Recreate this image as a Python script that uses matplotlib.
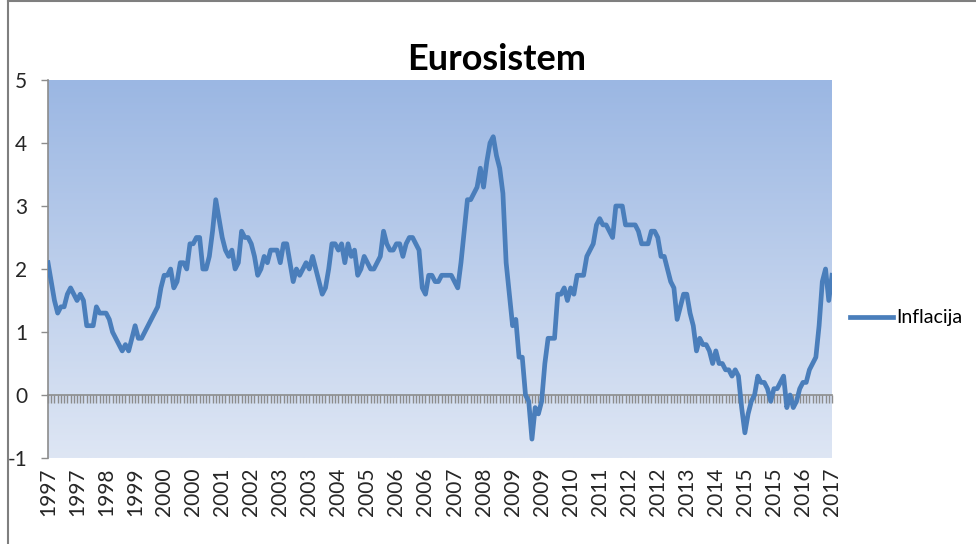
import numpy as np
import matplotlib
matplotlib.use('Agg')
import matplotlib.pyplot as plt
from matplotlib.lines import Line2D

# monthly inflation, Jan 1997 .. Apr 2017
inflacija = [
    2.1, 1.8, 1.5, 1.3, 1.4, 1.4, 1.6, 1.7, 1.6, 1.5, 1.6, 1.5,   # 1997
    1.1, 1.1, 1.1, 1.4, 1.3, 1.3, 1.3, 1.2, 1.0, 0.9, 0.8, 0.7,   # 1998
    0.8, 0.7, 0.9, 1.1, 0.9, 0.9, 1.0, 1.1, 1.2, 1.3, 1.4, 1.7,   # 1999
    1.9, 1.9, 2.0, 1.7, 1.8, 2.1, 2.1, 2.0, 2.4, 2.4, 2.5, 2.5,   # 2000
    2.0, 2.0, 2.2, 2.6, 3.1, 2.8, 2.5, 2.3, 2.2, 2.3, 2.0, 2.1,   # 2001
    2.6, 2.5, 2.5, 2.4, 2.2, 1.9, 2.0, 2.2, 2.1, 2.3, 2.3, 2.3,   # 2002
    2.1, 2.4, 2.4, 2.1, 1.8, 2.0, 1.9, 2.0, 2.1, 2.0, 2.2, 2.0,   # 2003
    1.8, 1.6, 1.7, 2.0, 2.4, 2.4, 2.3, 2.4, 2.1, 2.4, 2.2, 2.3,   # 2004
    1.9, 2.0, 2.2, 2.1, 2.0, 2.0, 2.1, 2.2, 2.6, 2.4, 2.3, 2.3,   # 2005
    2.4, 2.4, 2.2, 2.4, 2.5, 2.5, 2.4, 2.3, 1.7, 1.6, 1.9, 1.9,   # 2006
    1.8, 1.8, 1.9, 1.9, 1.9, 1.9, 1.8, 1.7, 2.1, 2.6, 3.1, 3.1,   # 2007
    3.2, 3.3, 3.6, 3.3, 3.7, 4.0, 4.1, 3.8, 3.6, 3.2, 2.1, 1.6,   # 2008
    1.1, 1.2, 0.6, 0.6, 0.0, -0.1, -0.7, -0.2, -0.3, -0.1, 0.5, 0.9,  # 2009
    0.9, 0.9, 1.6, 1.6, 1.7, 1.5, 1.7, 1.6, 1.9, 1.9, 1.9, 2.2,   # 2010
    2.3, 2.4, 2.7, 2.8, 2.7, 2.7, 2.6, 2.5, 3.0, 3.0, 3.0, 2.7,   # 2011
    2.7, 2.7, 2.7, 2.6, 2.4, 2.4, 2.4, 2.6, 2.6, 2.5, 2.2, 2.2,   # 2012
    2.0, 1.8, 1.7, 1.2, 1.4, 1.6, 1.6, 1.3, 1.1, 0.7, 0.9, 0.8,   # 2013
    0.8, 0.7, 0.5, 0.7, 0.5, 0.5, 0.4, 0.4, 0.3, 0.4, 0.3, -0.2,  # 2014
    -0.6, -0.3, -0.1, 0.0, 0.3, 0.2, 0.2, 0.1, -0.1, 0.1, 0.1, 0.2,  # 2015
    0.3, -0.2, 0.0, -0.2, -0.1, 0.1, 0.2, 0.2, 0.4, 0.5, 0.6, 1.1,  # 2016
    1.8, 2.0, 1.5, 1.9,                                         # 2017
]

# category labels shown every 9th month
year_labels = [
    '1997', '1997', '1998', '1999', '2000', '2000', '2001', '2002', '2003',
    '2003', '2004', '2005', '2006', '2006', '2007', '2008', '2009', '2009',
    '2010', '2011', '2012', '2012', '2013', '2014', '2015', '2015', '2016',
    '2017',
]
y_ticks = [-1, 0, 1, 2, 3, 4, 5]

FONT = 'Lato'
LINE_COLOR = '#4A7EBB'
AXIS_GRAY = '#8C8C8C'

fig = plt.figure(figsize=(9.76, 5.44), dpi=100)
ax = fig.add_axes([48 / 976, 1 - 458 / 544, (832 - 48) / 976, (458 - 80) / 544])

x = np.arange(len(inflacija))
n = len(inflacija) - 1

# gradient plot area background (darker on top)
grad = np.linspace(0, 1, 256).reshape(-1, 1)
top = np.array([155, 183, 227]) / 255
bot = np.array([222, 230, 244]) / 255
img = top + (bot - top) * grad[:, :, None] * np.ones((1, 2, 1))
ax.imshow(img, extent=[0, n, -1, 5], origin='upper', aspect='auto', zorder=0)

ax.plot(x, inflacija, color=LINE_COLOR, lw=3.4, solid_joinstyle='round', zorder=3)

ax.set_xlim(0, n)
ax.set_ylim(-1, 5)

# y axis
ax.set_yticks(y_ticks)
ax.set_yticklabels([str(v) for v in y_ticks], fontsize=15, family=FONT, color='#262626')
ax.tick_params(axis='y', direction='out', length=5, width=1, color=AXIS_GRAY, pad=10)
for s in ('top', 'right', 'bottom'):
    ax.spines[s].set_visible(False)
ax.spines['left'].set_color(AXIS_GRAY)
ax.spines['left'].set_linewidth(1.2)

# category labels at the bottom
label_pos = np.arange(0, n + 1, 9)
ax.set_xticks(label_pos)
ax.set_xticklabels(year_labels, rotation=90, fontsize=15, family=FONT, color='#262626')
ax.tick_params(axis='x', length=0, pad=7)

# category axis crossing at zero with monthly tick marks
sec = ax.secondary_xaxis(1 / 6)
sec.set_xticks(x)
sec.set_xticklabels([])
sec.tick_params(axis='x', direction='out', length=6, width=1, color=AXIS_GRAY)
sec.spines['bottom'].set_color(AXIS_GRAY)
sec.spines['bottom'].set_linewidth(1.2)

# title
fig.text(497 / 976, 1 - 60 / 544, 'Eurosistem', ha='center', va='center',
         fontsize=26, fontweight='bold', family=FONT, color='black')

# legend
handle = Line2D([], [], color=LINE_COLOR, lw=3.4)
fig.legend([handle], ['Inflacija'], loc='center left',
           bbox_to_anchor=(850 / 976, 1 - 318 / 544), frameon=False,
           borderpad=0, borderaxespad=0,
           prop={'family': FONT, 'size': 14}, handlelength=2.2, handletextpad=0.2)

# chart frame
fig.add_artist(Line2D([8 / 976, 8 / 976], [0, 1 - 1 / 544], color='#7F7F7F', lw=1.5))
fig.add_artist(Line2D([8 / 976, 1], [1 - 1 / 544, 1 - 1 / 544], color='#7F7F7F', lw=1.5))

fig.savefig('out.png', dpi=100)
